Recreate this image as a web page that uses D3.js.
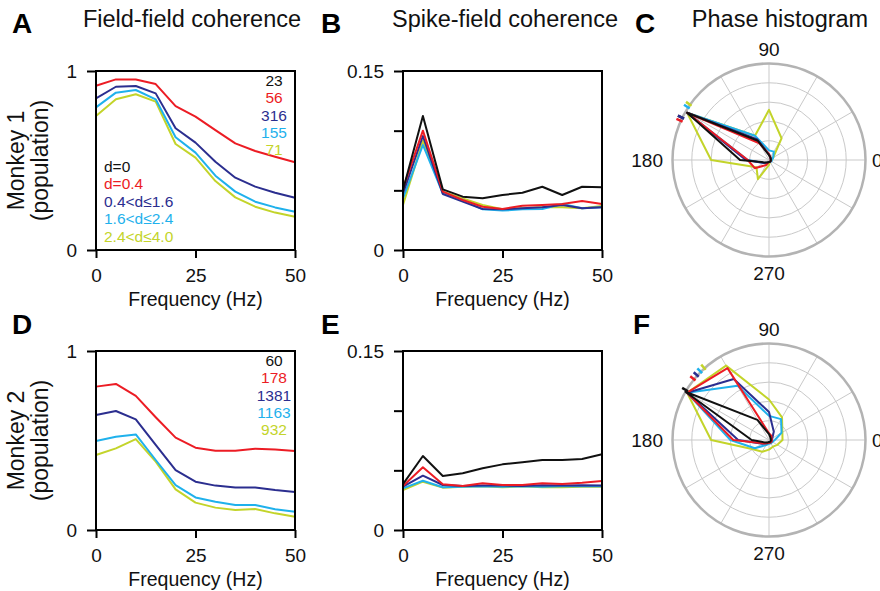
<!DOCTYPE html>
<html>
<head>
<meta charset="utf-8">
<script src="https://cdn.jsdelivr.net/npm/d3@7.9.0/dist/d3.min.js"></script>
<style>
  html, body { margin: 0; padding: 0; background: #fff; }
  svg { display: block; font-family: "Liberation Sans", Arial, Helvetica, sans-serif; }
  .tick text { font-size: 19px; fill: #111; }
</style>
</head>
<body>
<svg id="fig" width="880" height="591"></svg>
<script>
// ---- data ----
const freqs = [0, 5, 10, 15, 20, 25, 30, 35, 40, 45, 50];
const groups = ['d=0', 'd=0.4', '0.4<d≤1.6', '1.6<d≤2.4', '2.4<d≤4.0'];
const groupColors = ['#111111', '#ec1c24', '#2b2e8f', '#1fb1ec', '#c3d42a'];
const countsM1 = ['23', '56', '316', '155', '71'];
const countsM2 = ['60', '178', '1381', '1163', '932'];

// field-field coherence, monkey 1 (d=0 not drawn: coherence is 1)
const ffM1Red    = [0.918, 0.953, 0.953, 0.927, 0.804, 0.745, 0.670, 0.596, 0.553, 0.521, 0.490];
const ffM1Navy   = [0.847, 0.912, 0.916, 0.875, 0.680, 0.600, 0.493, 0.404, 0.354, 0.320, 0.292];
const ffM1Cyan   = [0.797, 0.879, 0.894, 0.842, 0.630, 0.544, 0.415, 0.326, 0.270, 0.238, 0.214];
const ffM1Yellow = [0.749, 0.842, 0.870, 0.829, 0.592, 0.516, 0.385, 0.294, 0.242, 0.209, 0.186];

// spike-field coherence, monkey 1
const sfM1Black  = [0.0503, 0.1123, 0.0508, 0.0447, 0.0433, 0.0461, 0.0480, 0.0530, 0.0461, 0.0530, 0.0525];
const sfM1Red    = [0.0517, 0.1000, 0.0489, 0.0419, 0.0363, 0.0344, 0.0371, 0.0377, 0.0385, 0.0410, 0.0385];
const sfM1Navy   = [0.0475, 0.0955, 0.0469, 0.0405, 0.0344, 0.0341, 0.0350, 0.0358, 0.0377, 0.0350, 0.0358];
const sfM1Cyan   = [0.0433, 0.0880, 0.0475, 0.0419, 0.0341, 0.0330, 0.0341, 0.0344, 0.0385, 0.0350, 0.0358];
const sfM1Yellow = [0.0377, 0.0916, 0.0489, 0.0433, 0.0377, 0.0341, 0.0350, 0.0358, 0.0358, 0.0350, 0.0369];

// field-field coherence, monkey 2
const ffM2Red    = [0.801, 0.816, 0.749, 0.630, 0.516, 0.460, 0.443, 0.443, 0.454, 0.450, 0.441];
const ffM2Navy   = [0.642, 0.665, 0.618, 0.475, 0.335, 0.270, 0.248, 0.238, 0.238, 0.223, 0.212];
const ffM2Cyan   = [0.497, 0.521, 0.534, 0.391, 0.251, 0.182, 0.158, 0.140, 0.140, 0.116, 0.102];
const ffM2Yellow = [0.419, 0.456, 0.508, 0.382, 0.227, 0.153, 0.125, 0.112, 0.117, 0.093, 0.074];

// spike-field coherence, monkey 2
const sfM2Black  = [0.0385, 0.0620, 0.0453, 0.0475, 0.0517, 0.0550, 0.0567, 0.0587, 0.0587, 0.0595, 0.0634];
const sfM2Red    = [0.0369, 0.0525, 0.0383, 0.0369, 0.0391, 0.0377, 0.0377, 0.0391, 0.0385, 0.0396, 0.0411];
const sfM2Navy   = [0.0363, 0.0455, 0.0377, 0.0369, 0.0372, 0.0372, 0.0369, 0.0374, 0.0372, 0.0375, 0.0372];
const sfM2Cyan   = [0.0349, 0.0413, 0.0358, 0.0363, 0.0366, 0.0363, 0.0366, 0.0363, 0.0366, 0.0366, 0.0366];
const sfM2Yellow = [0.0335, 0.0405, 0.0355, 0.0363, 0.0366, 0.0358, 0.0366, 0.0358, 0.0358, 0.0363, 0.0363];

// phase histograms: bin centres (deg) and relative counts
const phaseBins = [0, 30, 60, 90, 120, 150, 180, 210, 240, 270, 300, 330];
const phM1Black  = [0.02, 0.02, 0.03, 0.05, 0.23, 0.98, 0.30, 0.05, 0.03, 0.02, 0.02, 0.02];
const phM1Red    = [0.02, 0.02, 0.03, 0.06, 0.20, 0.98, 0.22, 0.17, 0.06, 0.02, 0.02, 0.02];
const phM1Navy   = [0.02, 0.02, 0.03, 0.06, 0.25, 0.98, 0.24, 0.06, 0.03, 0.02, 0.02, 0.02];
const phM1Cyan   = [0.03, 0.05, 0.10, 0.10, 0.29, 0.98, 0.22, 0.06, 0.04, 0.02, 0.02, 0.03];
const phM1Yellow = [0.03, 0.05, 0.26, 0.52, 0.29, 0.98, 0.60, 0.15, 0.23, 0.05, 0.02, 0.02];
const phM2Black  = [0.02, 0.02, 0.03, 0.06, 0.24, 1.00, 0.18, 0.05, 0.03, 0.02, 0.02, 0.02];
const phM2Red    = [0.03, 0.03, 0.05, 0.07, 0.86, 0.98, 0.37, 0.07, 0.04, 0.03, 0.03, 0.03];
const phM2Navy   = [0.03, 0.04, 0.10, 0.29, 0.73, 0.98, 0.32, 0.08, 0.04, 0.03, 0.03, 0.03];
const phM2Cyan   = [0.06, 0.15, 0.25, 0.25, 0.65, 0.98, 0.40, 0.17, 0.06, 0.04, 0.04, 0.04];
const phM2Yellow = [0.14, 0.16, 0.27, 0.42, 0.89, 0.98, 0.60, 0.19, 0.14, 0.10, 0.08, 0.10];
// mean phase per group (deg), drawn as ticks on the rim
const meanM1 = [154, 156, 154, 147, 145];
const meanM2 = [149, 141, 138, 135, 132];

// ---- layout ----
const svg = d3.select('#fig');
const FONT = '"Liberation Sans", Arial, Helvetica, sans-serif';
const rows = [71, 351];
const plotH = 179, plotW = 199;
const colA = 96, colB = 403;
const polarCx = 769, polarR = 96.5;

// titles + panel letters
const titles = [['Field-field coherence', 192], ['Spike-field coherence', 505], ['Phase histogram', 780]];
titles.forEach(([t, x]) => svg.append('text').attr('x', x).attr('y', 27)
  .attr('text-anchor', 'middle').attr('font-size', 23.5).attr('fill', '#111').text(t));

const letters = [['A', 12, 33], ['B', 321, 33], ['C', 635, 33], ['D', 12, 334], ['E', 321, 334], ['F', 633, 334]];
letters.forEach(([t, x, y]) => svg.append('text').attr('x', x).attr('y', y)
  .attr('font-size', 28).attr('font-weight', 'bold').attr('fill', '#000').text(t));

function linePanel(left, top, yMax, yTicks, yLabels, series) {
  const x = d3.scaleLinear().domain([0, 50]).range([left, left + plotW]);
  const y = d3.scaleLinear().domain([0, yMax]).range([top + plotH, top]);
  const g = svg.append('g');

  const line = d3.line().x((d, i) => x(freqs[i])).y(d => y(d));
  series.forEach(([vals, col]) => {
    g.append('path').datum(vals).attr('d', line)
      .attr('fill', 'none').attr('stroke', col).attr('stroke-width', 2)
      .attr('stroke-linejoin', 'round');
  });

  const ya = g.append('g').attr('transform', `translate(${left},0)`)
    .call(d3.axisLeft(y).tickValues(yTicks).tickSize(9).tickPadding(10)
      .tickFormat((d, i) => yLabels[i]));
  const xa = g.append('g').attr('transform', `translate(0,${top + plotH})`)
    .call(d3.axisBottom(x).tickValues([0, 25, 50]).tickSize(8).tickPadding(10.5));
  [ya, xa].forEach(a => {
    a.select('.domain').remove();
    a.selectAll('line').attr('stroke', '#000').attr('stroke-width', 2);
    a.selectAll('text').attr('font-family', FONT).attr('font-size', 19).attr('fill', '#111');
  });

  g.append('rect').attr('x', left).attr('y', top).attr('width', plotW).attr('height', plotH)
    .attr('fill', 'none').attr('stroke', '#000').attr('stroke-width', 2);

  g.append('text').attr('x', left + plotW / 2).attr('y', top + plotH + 56)
    .attr('text-anchor', 'middle').attr('font-size', 19.5).attr('fill', '#111')
    .text('Frequency (Hz)');
  return g;
}

function polarPanel(cy, traces, means) {
  const g = svg.append('g').attr('transform', `translate(${polarCx},${cy})`);
  const r = d3.scaleLinear().domain([0, 1]).range([0, polarR]);
  const rad = deg => deg * Math.PI / 180;

  // grid
  [0.2, 0.4, 0.6, 0.8].forEach(v => g.append('circle').attr('r', r(v))
    .attr('fill', 'none').attr('stroke', '#c9c9c9').attr('stroke-width', 1));
  d3.range(0, 360, 30).forEach(a => g.append('line')
    .attr('x1', 0).attr('y1', 0)
    .attr('x2', r(1) * Math.cos(rad(a))).attr('y2', -r(1) * Math.sin(rad(a)))
    .attr('stroke', '#c9c9c9').attr('stroke-width', 1));
  g.append('circle').attr('r', r(1)).attr('fill', 'none')
    .attr('stroke', '#b3b3b3').attr('stroke-width', 2.5);

  // angle labels
  const lab = [['90', 0, -104, 'middle'], ['180', -106, 7, 'end'], ['0', 103, 7, 'start'], ['270', 0, 120, 'middle']];
  lab.forEach(([t, dx, dy, anc]) => g.append('text').attr('x', dx).attr('y', dy)
    .attr('text-anchor', anc).attr('font-size', 19).attr('fill', '#111').text(t));

  const radial = d3.lineRadial()
    .angle((d, i) => rad(90 - phaseBins[i]))
    .radius(d => r(d))
    .curve(d3.curveLinearClosed);
  traces.forEach(([vals, col]) => g.append('path').datum(vals).attr('d', radial)
    .attr('fill', 'none').attr('stroke', col).attr('stroke-width', 2)
    .attr('stroke-linejoin', 'round'));

  // mean-phase ticks
  means.forEach((m, i) => {
    const c = Math.cos(rad(m)), s = Math.sin(rad(m));
    g.append('line').attr('x1', r(0.98) * c).attr('y1', -r(0.98) * s)
      .attr('x2', r(1.05) * c).attr('y2', -r(1.05) * s)
      .attr('stroke', groupColors[i]).attr('stroke-width', 2.5);
  });
}

function yTitle(cy, name) {
  svg.append('text').attr('transform', `translate(24,${cy}) rotate(-90)`)
    .attr('text-anchor', 'middle').attr('font-size', 23).attr('fill', '#111').text(name);
  svg.append('text').attr('transform', `translate(48,${cy}) rotate(-90)`)
    .attr('text-anchor', 'middle').attr('font-size', 23).attr('fill', '#111').text('(population)');
}

function legend(top, counts, withNames) {
  counts.forEach((c, i) => svg.append('text').attr('x', 274).attr('y', top + 15 + i * 17.3)
    .attr('text-anchor', 'middle').attr('font-size', 15.5).attr('fill', groupColors[i]).text(c));
  if (withNames) groups.forEach((t, i) => svg.append('text').attr('x', 104).attr('y', top + 100.5 + i * 17.6)
    .attr('font-size', 15.5).attr('fill', groupColors[i]).text(t));
}

// ---- row 1: monkey 1 ----
linePanel(colA, rows[0], 1, [0, 1], ['0', '1'],
  [[ffM1Yellow, groupColors[4]], [ffM1Cyan, groupColors[3]], [ffM1Navy, groupColors[2]], [ffM1Red, groupColors[1]]]);
linePanel(colB, rows[0], 0.15, [0, 0.05, 0.1, 0.15], ['0', '', '', '0.15'],
  [[sfM1Yellow, groupColors[4]], [sfM1Cyan, groupColors[3]], [sfM1Navy, groupColors[2]], [sfM1Red, groupColors[1]], [sfM1Black, groupColors[0]]]);
polarPanel(160, [[phM1Yellow, groupColors[4]], [phM1Cyan, groupColors[3]], [phM1Navy, groupColors[2]], [phM1Red, groupColors[1]], [phM1Black, groupColors[0]]], meanM1);
yTitle(rows[0] + plotH / 2, 'Monkey 1');
legend(rows[0], countsM1, true);

// ---- row 2: monkey 2 ----
linePanel(colA, rows[1], 1, [0, 1], ['0', '1'],
  [[ffM2Yellow, groupColors[4]], [ffM2Cyan, groupColors[3]], [ffM2Navy, groupColors[2]], [ffM2Red, groupColors[1]]]);
linePanel(colB, rows[1], 0.15, [0, 0.05, 0.1, 0.15], ['0', '', '', '0.15'],
  [[sfM2Yellow, groupColors[4]], [sfM2Cyan, groupColors[3]], [sfM2Navy, groupColors[2]], [sfM2Red, groupColors[1]], [sfM2Black, groupColors[0]]]);
polarPanel(440, [[phM2Yellow, groupColors[4]], [phM2Cyan, groupColors[3]], [phM2Navy, groupColors[2]], [phM2Red, groupColors[1]], [phM2Black, groupColors[0]]], meanM2);
yTitle(rows[1] + plotH / 2, 'Monkey 2');
legend(rows[1], countsM2, false);
</script>
</body>
</html>
